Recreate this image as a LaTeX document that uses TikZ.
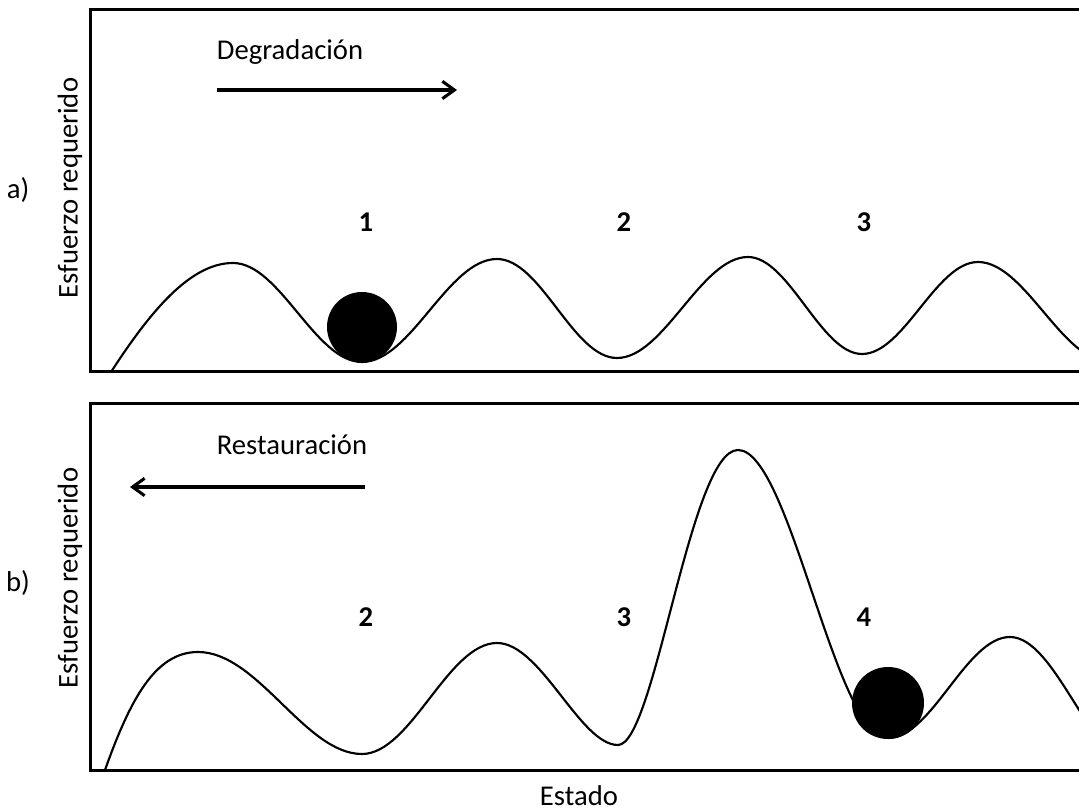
\documentclass[tikz,border=0pt]{standalone}
\usepackage{fontspec}
\setmainfont{Carlito}
\usetikzlibrary{arrows.meta}
\begin{document}
\begin{tikzpicture}[x=0.75pt,y=-0.75pt,
  txt/.style={font=\fontsize{21.5}{24}\selectfont, inner sep=0pt},
  num/.style={font=\fontsize{21.5}{24}\selectfont\bfseries, inner sep=0pt},
  frame/.style={line width=2.25pt},
  curve/.style={line width=1.6pt},
  ball/.style={fill=black, draw=none},
  dirarrow/.style={line width=2.3pt, -{Straight Barb[length=9pt,width=13pt,line width=2.3pt]}}]
\useasboundingbox (0,0) rectangle (1079,812);
\clip (0,0) rectangle (1079,812);
% frames (open at the right)
\draw[frame] (1100,10) -- (90,10) -- (90,372) -- (1100,372);
\draw[frame] (1100,404) -- (90,404) -- (90,770) -- (1100,770);
% labels
\node[txt] (la) at (18,190) {a)};
\node[txt] (lb) at (18,583) {b)};
\node[txt, rotate=90] (ya) at (70,188) {Esfuerzo requerido};
\node[txt, rotate=90] (yb) at (70,578) {Esfuerzo requerido};
\node[txt, anchor=base] (estado) at (579,806) {Estado};
\node[txt] (deg) at (290,52) {Degradación};
\node[txt] (res) at (292,445) {Restauración};
\coordinate (da) at (217,90);
\coordinate (db) at (457,90);
\coordinate (ra) at (365,487);
\coordinate (rb) at (130,487);
\draw[dirarrow] (da) -- (db);
\draw[dirarrow] (ra) -- (rb);
% state numbers
\node[num] (a1) at (366,222) {1};
\node[num] (a2) at (624,222) {2};
\node[num] (a3) at (864,222) {3};
\node[num] (b2) at (366,617) {2};
\node[num] (b3) at (624,617) {3};
\node[num] (b4) at (864,617) {4};
% balls
\fill[ball] (362,327) circle (35);
\fill[ball] (888,703) circle (36);
% curve a
\draw[curve] (111,372) .. controls (150,312) and (190,263) .. (233,263)
  .. controls (280,263) and (315,362) .. (362,362)
  .. controls (411,362) and (448,259) .. (497,259)
  .. controls (541,259) and (573,358) .. (617,358)
  .. controls (664,358) and (701,257) .. (748,257)
  .. controls (789,257) and (821,354) .. (862,354)
  .. controls (904,354) and (936,262) .. (978,262)
  .. controls (1025,262) and (1062,362) .. (1110,362);
% curve b
\draw[curve] (105,770) .. controls (130,700) and (155,652) .. (198,652)
  .. controls (258,652) and (305,754) .. (362,754)
  .. controls (411,754) and (448,643) .. (497,643)
  .. controls (541,643) and (580,745) .. (618,745)
  .. controls (655,745) and (690,450) .. (738,450)
  .. controls (790,450) and (835,738) .. (888,738)
  .. controls (932,738) and (966,637) .. (1010,637)
  .. controls (1055,637) and (1090,760) .. (1130,760);
\end{tikzpicture}
\end{document}
